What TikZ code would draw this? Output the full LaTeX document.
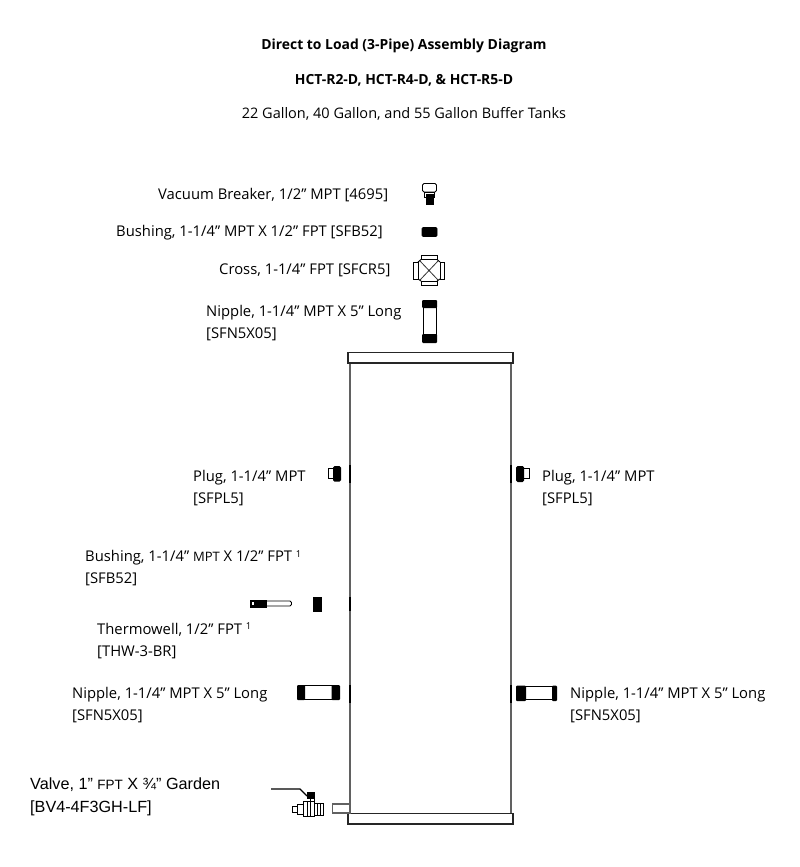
\documentclass[tikz,border=0pt]{standalone}
\usepackage{fontspec}
\setmainfont{Open Sans}
\newfontfamily\labfont{Liberation Sans}
\tikzset{
  x=1pt,y=-1pt,
  part/.style={draw=black,line width=0.9pt,fill=white},
  solidpart/.style={draw=black,line width=0.6pt,fill=black},
  tank/.style={draw=black!62,line width=1.2pt,fill=white},
  title/.style={anchor=center,inner sep=0pt,font=\fontsize{13.9}{15}\selectfont\bfseries},
  subtitle/.style={anchor=center,inner sep=0pt,font=\fontsize{14.5}{16}\selectfont},
  lab/.style={anchor=west,inner sep=0pt,align=left,font=\fontsize{14.8}{22}\selectfont},
  labb/.style={anchor=west,inner sep=0pt,align=left,font=\labfont\fontsize{16.2}{23}\selectfont}
}
\newcommand{\sm}[1]{{\fontsize{13}{10}\selectfont #1}}
\newcommand{\smv}[1]{{\fontsize{13.5}{10}\selectfont #1}}
\newcommand{\sups}[1]{\raisebox{4.5pt}{\fontsize{9.5}{9}\selectfont #1}}
\begin{document}
\begin{tikzpicture}
\useasboundingbox (0,0) rectangle (800,867);
\fill[white] (0,0) rectangle (800,867);
% titles
\node[title] (t1) at (404,45.5) {Direct to Load (3-Pipe) Assembly Diagram};
\node[title] (t2) at (404,80) {HCT-R2-D, HCT-R4-D, \& HCT-R5-D};
\node[subtitle] (t3) at (404,113.5) {22 Gallon, 40 Gallon, and 55 Gallon Buffer Tanks};
% labels
\node[lab] (l1) at (158,195.5) {Vacuum Breaker, 1/2” MPT [4695]};
\node[lab] (l2) at (116,233) {Bushing, 1-1/4” MPT X 1/2” FPT [SFB52]};
\node[lab] (l3) at (219,270) {Cross, 1-1/4” FPT [SFCR5]};
\node[lab] (l4) at (206,323) {Nipple, 1-1/4” MPT X 5” Long\\{}[SFN5X05]};
\node[lab] (l5) at (193,488) {Plug, 1-1/4” MPT\\{}[SFPL5]};
\node[lab] (l6) at (542,488) {Plug, 1-1/4” MPT\\{}[SFPL5]};
\node[lab] (l7) at (85,568.5) {Bushing, 1-1/4” \sm{MPT} X 1/2” FPT \sups{1}\\{}[SFB52]};
\node[lab] (l8) at (97,641) {Thermowell, 1/2” FPT \sups{1}\\{}[THW-3-BR]};
\node[lab] (l9) at (72,705) {Nipple, 1-1/4” MPT X 5” Long\\{}[SFN5X05]};
\node[lab] (l10) at (570,705) {Nipple, 1-1/4” MPT X 5” Long\\{}[SFN5X05]};
\node[labb] (l11) at (30,797) {Valve, 1” \smv{FPT} X ¾” Garden\\{}[BV4-4F3GH-LF]};
% tank
\draw[tank] (350,363) -- (350,813);
\draw[tank] (511,363) -- (511,813);
\draw[tank,draw=black!85] (348,352.5) rectangle (513,363);
\draw[tank,draw=black!85] (348,813.5) rectangle (513,824);
\draw[tank] (332.5,804) rectangle (350,813);
\foreach \x/\a/\b in {350/465/483,511/465/483,350/685/703,511/685/703,350/597/611}
  \draw[black,line width=1.7pt] (\x,\a) -- (\x,\b);
% vacuum breaker
\draw[part,rounded corners=1.5pt] (422.5,183.5) rectangle (436.5,192);
\draw[part] (424.5,192) rectangle (434.5,197);
\fill[black] (426,194) rectangle (433.5,205);
% top bushing
\draw[solidpart,rounded corners=1pt] (422,227.5) rectangle (437,236.5);
% cross
\draw[black!80,line width=0.8pt] (420,261) -- (438,280) (438,261) -- (420,280);
\draw[part] (421,255.5) rectangle (437,259.5);
\draw[part] (421,281) rectangle (437,285);
\draw[part] (413.5,262) rectangle (418,279);
\draw[part] (440,262) rectangle (444,279);
\draw[black,line width=0.9pt] (421,259.5) -- (418,262) (437,259.5) -- (440,262) (421,281) -- (418,279) (437,281) -- (440,279);
% top nipple
\draw[part] (423,303) rectangle (436,340);
\fill[black,rounded corners=1pt] (422,300) rectangle (437,308);
\fill[black,rounded corners=1pt] (422,334) rectangle (437,343);
% left plug
\draw[part] (328.5,468.5) rectangle (334,478);
\fill[black,rounded corners=1.5pt] (333,466) rectangle (341,481.5);
% right plug
\draw[part] (523,468.5) rectangle (529,478.5);
\fill[black,rounded corners=1.5pt] (516,466) rectangle (524,482);
% thermowell + bushing
\draw[part,rounded corners=1.5pt] (264,601) rectangle (291.5,606);
\draw[solidpart] (250.5,600.5) rectangle (255,607);
\draw[solidpart] (256,600) rectangle (266,607.5);
\fill[white] (252,602) rectangle (254,605);
\draw[solidpart] (313,597.5) rectangle (321.5,611.5);
% left nipple
\draw[part] (303,685.5) rectangle (334,699.5);
\fill[black,rounded corners=1pt] (297,685) rectangle (305,700);
\fill[black,rounded corners=1pt] (331.5,685) rectangle (340,700);
% right nipple
\draw[part] (524,686.5) rectangle (553,699.5);
\fill[black,rounded corners=1pt] (516,685.5) rectangle (526,701);
\fill[black,rounded corners=1pt] (552,685.5) rectangle (557,701);
% valve
\draw[black,line width=1.1pt] (271,789) -- (300,789) -- (307,796);
\fill[black] (307,792) rectangle (315,799);
\draw[black,line width=1pt] (310,797) rectangle (314,801);
\draw[part,line width=0.7pt] (303,801) rectangle (314,816);
\draw[black,line width=0.5pt] (307,801) -- (307,816) (310.5,801) -- (310.5,816);
\draw[part,line width=0.7pt] (314,803) rectangle (323,815);
\draw[black,line width=0.7pt] (317,803) -- (317,815) (320,803) -- (320,815);
\draw[part,line width=0.7pt] (297,804) rectangle (303,814);
\draw[part,line width=0.7pt] (292.5,806) rectangle (297,812);
\end{tikzpicture}
\end{document}
